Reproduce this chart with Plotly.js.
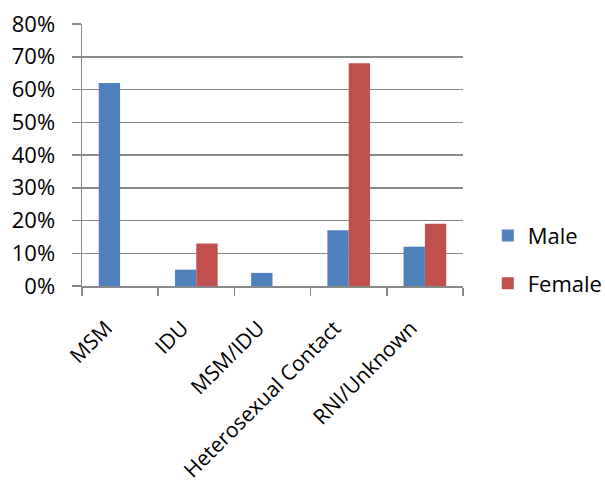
<!DOCTYPE html>
<html>
<head>
<meta charset="utf-8">
<script src="https://cdn.plot.ly/plotly-3.0.1.min.js"></script>
<style>html,body{margin:0;padding:0;background:#fff;}#chart{width:605px;height:493px;}</style>
</head>
<body>
<div id="chart"></div>
<script>
var categories = ["MSM", "IDU", "MSM/IDU", "Heterosexual Contact", "RNI/Unknown"];
var maleValues = [0.62, 0.05, 0.04, 0.17, 0.12];
var femaleValues = [0, 0.13, 0, 0.68, 0.19];
var yTickVals = [0, 0.1, 0.2, 0.3, 0.4, 0.5, 0.6, 0.7, 0.8];
var yTickText = ["0%", "10%", "20%", "30%", "40%", "50%", "60%", "70%", "80%"];

var font = {family: "Open Sans, Liberation Sans, sans-serif", size: 22, color: "#000"};
var xFont = {family: "Open Sans, Liberation Sans, sans-serif", size: 21, color: "#000"};
var gridColor = "#888888";

var data = [
  {type: "bar", name: "Male", x: categories, y: maleValues, marker: {color: "#4F81BD"}, legendgroup: "m"},
  {type: "bar", name: "Female", x: categories, y: femaleValues, marker: {color: "#C0504D"}, legendgroup: "f"}
];

var layout = {
  width: 605, height: 493,
  margin: {l: 82, r: 142, t: 23.5, b: 207, autoexpand: false},
  paper_bgcolor: "#fff", plot_bgcolor: "#fff",
  font: font,
  barmode: "group",
  bargap: 0.44,
  bargroupgap: 0,
  showlegend: true,
  legend: {x: 1.065, xanchor: "left", y: 0.1, yanchor: "middle", font: font, traceorder: "grouped", tracegroupgap: 16, bgcolor: "rgba(0,0,0,0)", itemwidth: 30},
  xaxis: {
    type: "category", tickangle: -45, tickson: "boundaries", ticks: "outside", ticklen: 8, tickcolor: gridColor, tickwidth: 1.5,
    showline: true, linecolor: gridColor, linewidth: 1.5, showgrid: false, tickfont: xFont, zeroline: false,
    ticklabelstandoff: 20, ticklabelshift: -14
  },
  yaxis: {
    range: [0, 0.8], tickvals: yTickVals, ticktext: yTickText, ticks: "outside", ticklen: 9, tickcolor: gridColor, tickwidth: 1.5,
    showline: true, linecolor: gridColor, linewidth: 1.5, showgrid: true, gridcolor: gridColor, gridwidth: 1.5,
    zeroline: false, tickfont: font, ticklabelstandoff: 12
  }
};

Plotly.newPlot("chart", data, layout, {displayModeBar: false, staticPlot: true});
</script>
</body>
</html>
